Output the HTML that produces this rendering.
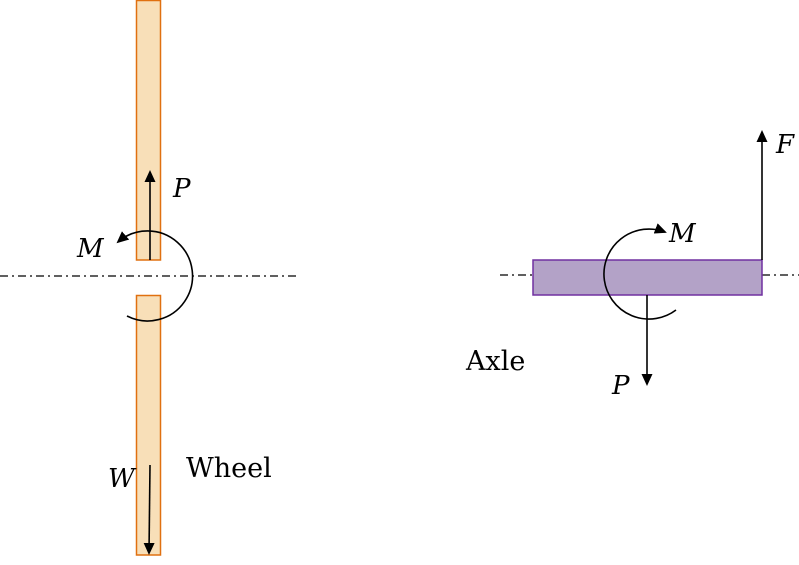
<!DOCTYPE html>
<html><head><style>
html,body{margin:0;padding:0;background:#fff;}
svg{display:block;}
.it{font-family:"DejaVu Serif","Liberation Serif",serif;font-style:italic;font-size:26px;}
.rm{font-family:"DejaVu Serif","Liberation Serif",serif;font-size:27px;}
</style></head><body>
<svg width="799" height="565" viewBox="0 0 799 565" xmlns="http://www.w3.org/2000/svg">
<defs>
<marker id="ah" markerWidth="12" markerHeight="11" refX="10" refY="5.5" orient="auto" markerUnits="userSpaceOnUse">
<path d="M0,0 L12,5.5 L0,11 Z" fill="#000"/>
</marker>
</defs>
<rect x="136.5" y="0.5" width="24" height="259.5" fill="#f8dfb8" stroke="#e07010" stroke-width="1.5"/>
<rect x="136.5" y="295.5" width="24" height="259.5" fill="#f8dfb8" stroke="#e07010" stroke-width="1.5"/>
<line x1="0" y1="276" x2="298" y2="276" stroke="#000" stroke-width="1.2" stroke-dasharray="8,4,2,4"/>
<line x1="500" y1="275" x2="533" y2="275" stroke="#000" stroke-width="1.2" stroke-dasharray="8,4,2,4"/>
<line x1="762" y1="275" x2="799" y2="275" stroke="#000" stroke-width="1.2" stroke-dasharray="8,4,2,4"/>
<line x1="150" y1="260" x2="150" y2="172" stroke="#000" stroke-width="1.6" marker-end="url(#ah)"/>
<line x1="150" y1="465" x2="149" y2="553" stroke="#000" stroke-width="1.6" marker-end="url(#ah)"/>
<path d="M127,316 A45,45 0 1 0 118,242" fill="none" stroke="#000" stroke-width="1.6" marker-end="url(#ah)"/>
<rect x="533" y="260" width="229" height="35" fill="#b3a2c7" stroke="#7030a0" stroke-width="1.5"/>
<line x1="762" y1="260" x2="762" y2="132" stroke="#000" stroke-width="1.6" marker-end="url(#ah)"/>
<line x1="647" y1="295" x2="647" y2="384" stroke="#000" stroke-width="1.6" marker-end="url(#ah)"/>
<path d="M676,310 A45,45 0 1 1 665,232" fill="none" stroke="#000" stroke-width="1.6" marker-end="url(#ah)"/>
<text x="173" y="197" class="it">P</text>
<text x="77" y="257" class="it">M</text>
<text x="108" y="487" class="it">W</text>
<text x="186" y="477" class="rm">Wheel</text>
<text x="466" y="370" class="rm">Axle</text>
<text x="669" y="242" class="it">M</text>
<text x="776" y="153" class="it">F</text>
<text x="612" y="394" class="it">P</text>
</svg>
</body></html>
